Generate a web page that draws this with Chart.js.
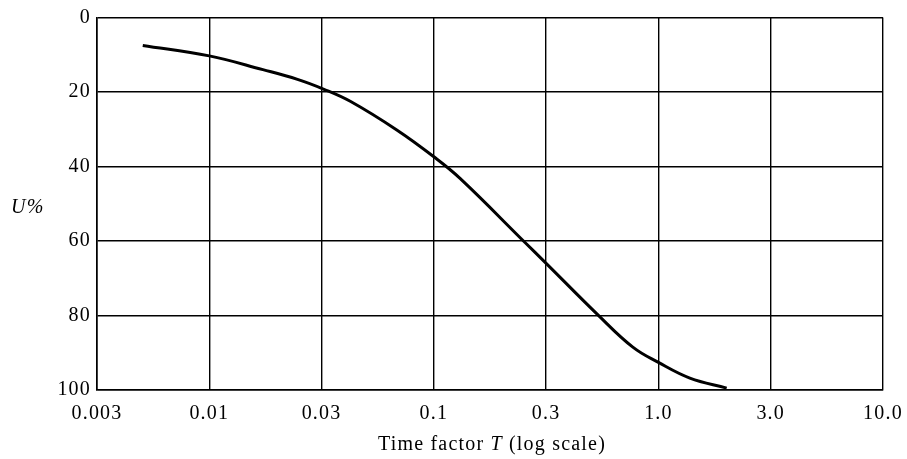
<!DOCTYPE html>
<html lang="en">

<head>
    <meta charset="UTF-8">
    <title>Degree of consolidation vs time factor</title>
    <script src="https://cdn.jsdelivr.net/npm/chart.js"></script>
    <style>
        html,
        body {
            margin: 0;
            padding: 0;
            background: #fff;
        }

        #wrap {
            width: 907px;
            height: 459px;
        }
    </style>
</head>

<body>
    <div id="wrap">
        <canvas id="chart" width="907" height="459"></canvas>
    </div>

    <script>
        // tick values along the T axis (drawn evenly spaced, log between ticks)
        const tickValues = [0.003, 0.01, 0.03, 0.1, 0.3, 1, 3, 10];
        const tickLabels = ['0.003', '0.01', '0.03', '0.1', '0.3', '1.0', '3.0', '10.0'];

        // curve
        const timeFactor = [0.0049, 0.01, 0.0169, 0.0237, 0.0306, 0.0408, 0.0672, 0.1, 0.1292,
            0.244, 0.3, 0.524, 0.76, 1.0, 1.36, 1.95];
        const degreeU = [7.5, 10.3, 14.0, 16.6, 19.2, 22.5, 30.2, 37.4, 43.2,
            60.4, 66.0, 79.9, 88.5, 92.6, 96.8, 99.5];

        const yTicks = [0, 20, 40, 60, 80, 100];

        // T value -> position on the evenly spaced tick axis
        function toPos(t) {
            let i = 0;
            while (i < tickValues.length - 2 && t > tickValues[i + 1]) i++;
            return i + Math.log(t / tickValues[i]) / Math.log(tickValues[i + 1] / tickValues[i]);
        }

        const FONT = "'Liberation Serif', 'Times New Roman', serif";
        const SPACING = '1.2px';
        Chart.defaults.font.family = FONT;
        Chart.defaults.font.size = 20;
        Chart.defaults.color = '#000';

        const spacingPlugin = {
            id: 'spacing',
            beforeLayout(chart) { chart.ctx.letterSpacing = SPACING; },
            beforeDraw(chart) { chart.ctx.letterSpacing = SPACING; }
        };

        const titlesPlugin = {
            id: 'titles',
            afterDraw(chart) {
                const ctx = chart.ctx;
                const area = chart.chartArea;
                ctx.save();
                ctx.letterSpacing = SPACING;
                ctx.fillStyle = '#000';
                ctx.textBaseline = 'middle';

                // y title, horizontal
                ctx.font = 'italic 20px ' + FONT;
                ctx.textAlign = 'left';
                ctx.fillText('U%', 11, (area.top + area.bottom) / 2 + 4);

                // x title with italic T
                const parts = [
                    ['Time factor ', '20px ' + FONT],
                    ['T', 'italic 20px ' + FONT],
                    [' (log scale)', '20px ' + FONT]
                ];
                let total = 0;
                parts.forEach(p => { ctx.font = p[1]; total += ctx.measureText(p[0]).width; });
                let x = (area.left + area.right) / 2 + 2 - total / 2;
                parts.forEach(p => {
                    ctx.font = p[1];
                    ctx.fillText(p[0], x, 445);
                    x += ctx.measureText(p[0]).width;
                });
                ctx.restore();
            }
        };

        new Chart(document.getElementById('chart'), {
            type: 'line',
            data: {
                datasets: [{
                    data: timeFactor.map((t, i) => ({ x: toPos(t), y: degreeU[i] })),
                    borderColor: '#000',
                    borderWidth: 3,
                    pointRadius: 0,
                    tension: 0.4,
                    fill: false
                }]
            },
            options: {
                responsive: false,
                animation: false,
                layout: {
                    padding: { top: 17.5, right: 24, bottom: 0, left: 0 }
                },
                plugins: {
                    legend: { display: false },
                    tooltip: { enabled: false }
                },
                scales: {
                    x: {
                        type: 'linear',
                        min: 0,
                        max: tickValues.length - 1,
                        afterBuildTicks(scale) {
                            scale.ticks = tickLabels.map((_, i) => ({ value: i }));
                        },
                        afterFit(scale) {
                            scale.height = 69;
                            scale.paddingLeft = 0;
                            scale.paddingRight = 0;
                        },
                        ticks: {
                            padding: 12,
                            maxRotation: 0,
                            autoSkip: false,
                            callback: v => tickLabels[v]
                        },
                        grid: { color: '#000', lineWidth: 1.4, drawTicks: false },
                        border: { color: '#000', width: 1.6 }
                    },
                    y: {
                        type: 'linear',
                        reverse: true,
                        min: 0,
                        max: 100,
                        afterBuildTicks(scale) {
                            scale.ticks = yTicks.map(v => ({ value: v }));
                        },
                        afterFit(scale) {
                            scale.width = 97;
                            scale.paddingTop = 0;
                            scale.paddingBottom = 0;
                        },
                        ticks: { padding: 6 },
                        grid: { color: '#000', lineWidth: 1.4, drawTicks: false },
                        border: { color: '#000', width: 1.6 }
                    }
                }
            },
            plugins: [spacingPlugin, titlesPlugin]
        });
    </script>
</body>

</html>
